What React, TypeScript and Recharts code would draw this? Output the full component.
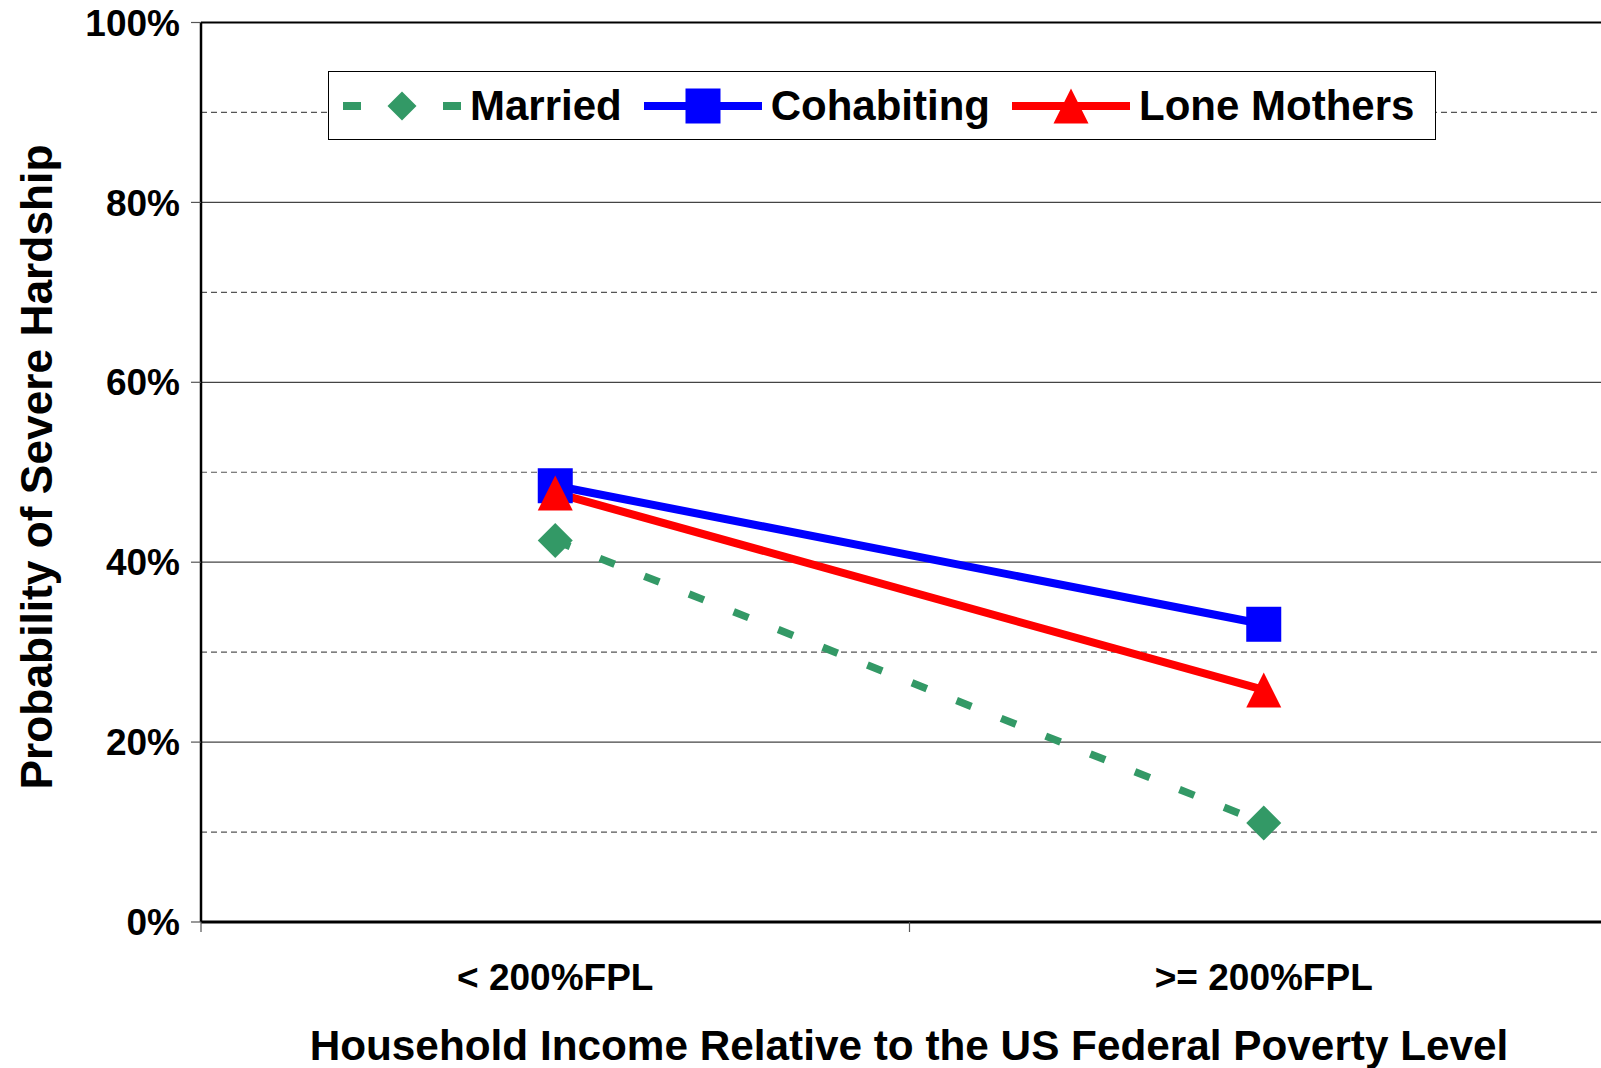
import React from "react";
import {
  LineChart,
  Line,
  XAxis,
  YAxis,
  CartesianGrid,
  ReferenceLine,
  Legend,
} from "recharts";

const categories = ["< 200%FPL", ">= 200%FPL"];
const married = [0.424, 0.11];
const cohabiting = [0.485, 0.331];
const loneMothers = [0.477, 0.258];

const majorTicks = [0, 0.2, 0.4, 0.6, 0.8, 1];
const minorTicks = [0.1, 0.3, 0.5, 0.7, 0.9];

const FONT = '"Liberation Sans", Arial, sans-serif';
const GREEN = "#339966";
const BLUE = "#0000FF";
const RED = "#FF0000";

const CHART_W = 1640;
const Y_AXIS_W = 201;
const RIGHT = 22;
// half of one category band, the plot runs past the page's right edge
const HALF_BAND = (CHART_W - Y_AXIS_W - RIGHT) / (2 * categories.length);

const data = categories.map((cat, i) => ({
  cat,
  married: married[i],
  cohabiting: cohabiting[i],
  loneMothers: loneMothers[i],
}));

type Shape = "diamond" | "square" | "triangle";

const series: { key: string; name: string; color: string; shape: Shape; dash?: string }[] = [
  { key: "married", name: "Married", color: GREEN, shape: "diamond", dash: "16 32" },
  { key: "cohabiting", name: "Cohabiting", color: BLUE, shape: "square" },
  { key: "loneMothers", name: "Lone Mothers", color: RED, shape: "triangle" },
];

function marker(shape: Shape, cx: number, cy: number, color: string, size: number, key?: string) {
  const h = size / 2;
  if (shape === "square") {
    return <rect key={key} x={cx - h} y={cy - h} width={size} height={size} fill={color} />;
  }
  if (shape === "triangle") {
    return (
      <polygon
        key={key}
        points={`${cx},${cy - h} ${cx + h},${cy + h} ${cx - h},${cy + h}`}
        fill={color}
      />
    );
  }
  return (
    <polygon
      key={key}
      points={`${cx},${cy - h} ${cx + h},${cy} ${cx},${cy + h} ${cx - h},${cy}`}
      fill={color}
    />
  );
}

const pct = (v: number) => `${Math.round(v * 100)}%`;

// category label at the band centre, tick marks on the band edges (Excel style)
function CategoryTick(props: any) {
  const { x, y, payload, index } = props;
  const last = index === categories.length - 1;
  return (
    <g>
      <line x1={x - HALF_BAND} y1={y} x2={x - HALF_BAND} y2={y + 10} stroke="#555" strokeWidth={1.2} />
      {last && (
        <line x1={x + HALF_BAND} y1={y} x2={x + HALF_BAND} y2={y + 10} stroke="#555" strokeWidth={1.2} />
      )}
      <text
        x={x}
        y={y + 42}
        dy="0.71em"
        textAnchor="middle"
        fill="#000"
        fontSize={37}
        fontWeight="bold"
        fontFamily={FONT}
      >
        {payload.value}
      </text>
    </g>
  );
}

function LegendBox() {
  return (
    <div
      style={{
        boxSizing: "border-box",
        width: 1108,
        height: 69,
        border: "1.5px solid #000",
        background: "#fff",
        display: "flex",
        alignItems: "center",
        paddingLeft: 14,
        fontFamily: FONT,
        fontWeight: "bold",
        fontSize: 42,
        color: "#000",
      }}
    >
      {series.map((s) => (
        <div key={s.key} style={{ display: "flex", alignItems: "center", marginRight: 22 }}>
          <svg width={118} height={40} style={{ display: "block" }}>
            <line
              x1={0}
              y1={20}
              x2={118}
              y2={20}
              stroke={s.color}
              strokeWidth={8}
              strokeLinecap={s.dash ? "butt" : "round"}
              strokeDasharray={s.dash ? "18 32" : undefined}
            />
            {marker(s.shape, 59, 20, s.color, s.shape === "diamond" ? 29 : 35)}
          </svg>
          <span style={{ marginLeft: 9, whiteSpace: "nowrap", lineHeight: 1 }}>{s.name}</span>
        </div>
      ))}
    </div>
  );
}

const renderYTitle = () => (
  <text
    x={36}
    y={467}
    transform="rotate(-90 36 467)"
    textAnchor="middle"
    dominantBaseline="central"
    fontFamily={FONT}
    fontWeight="bold"
    fontSize={44.3}
    fill="#000"
  >
    Probability of Severe Hardship
  </text>
);

const renderXTitle = () => (
  <text
    x={909}
    y={1045}
    textAnchor="middle"
    dominantBaseline="central"
    fontFamily={FONT}
    fontWeight="bold"
    fontSize={42.3}
    fill="#000"
  >
    Household Income Relative to the US Federal Poverty Level
  </text>
);

export default function App() {
  return (
    <div
      style={{
        position: "absolute",
        left: 0,
        top: 0,
        width: 1601,
        height: 1068,
        overflow: "hidden",
        background: "#fff",
      }}
    >
      <LineChart
        width={CHART_W}
        height={1068}
        data={data}
        margin={{ top: 22.5, right: RIGHT, bottom: 0, left: 0 }}
      >
        <CartesianGrid vertical={false} stroke="#444" strokeWidth={1.2} />
        {minorTicks.map((t) => (
          <ReferenceLine
            key={t}
            y={t}
            stroke="#555"
            strokeWidth={1.2}
            strokeDasharray="6 4"
          />
        ))}
        <ReferenceLine y={1} stroke="#000" strokeWidth={2} />
        <XAxis
          dataKey="cat"
          height={146}
          padding={{ left: HALF_BAND, right: HALF_BAND }}
          axisLine={{ stroke: "#000", strokeWidth: 3 }}
          tickLine={false}
          tickSize={0}
          tickMargin={0}
          tick={<CategoryTick />}
          label={renderXTitle}
        />
        <YAxis
          width={Y_AXIS_W}
          domain={[0, 1]}
          ticks={majorTicks}
          tickFormatter={pct}
          axisLine={{ stroke: "#000", strokeWidth: 2.5 }}
          tickLine={{ stroke: "#555", strokeWidth: 1.2 }}
          tickSize={10}
          tickMargin={11}
          tick={{ fill: "#000", fontSize: 37, fontWeight: "bold", fontFamily: FONT }}
          label={renderYTitle}
        />
        <Legend
          layout="vertical"
          align="center"
          verticalAlign="middle"
          wrapperStyle={{ left: 328, top: 71, width: 1108, height: 69 }}
          content={() => <LegendBox />}
        />
        {series.map((s) => (
          <Line
            key={s.key}
            dataKey={s.key}
            name={s.name}
            stroke={s.color}
            strokeWidth={s.dash ? 7.5 : 8}
            strokeDasharray={s.dash}
            strokeLinecap="butt"
            isAnimationActive={false}
            dot={(p: any) => marker(s.shape, p.cx, p.cy, s.color, 35, `${s.key}-${p.index}`)}
            activeDot={false}
          />
        ))}
      </LineChart>
    </div>
  );
}
